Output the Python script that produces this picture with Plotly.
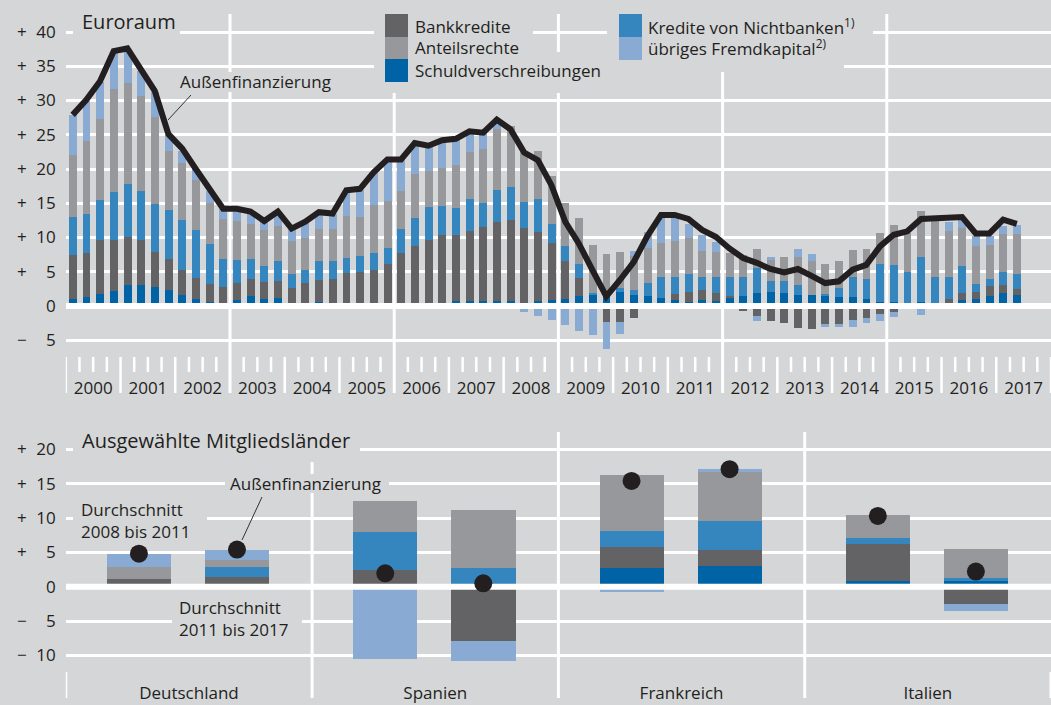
import plotly.graph_objects as go

W, H = 1051, 705
BG = "#d5d6d8"
TXT = "#231f20"
FONT = "Open Sans"

# ---------------- data: Euroraum (quarterly, 2000Q1 - 2017Q2) ----------------
years = list(range(2000, 2018))
quarters = [f"{y}Q{q}" for y in years for q in range(1, 5)][:70]

schuldverschreibungen = [
    1.0, 1.3, 1.7, 2.2, 3.1, 3.0, 2.8, 2.4, 1.55, 0.95,
    0.6, 0.1, 0.85, 1.4, 0.95, 1.2, 0.15, 0.3, 0.6, 0.0,
    0.4, 0.0, 0.0, 0.0, 0.0, 0.0, 0.0, 0.5, 0.7, 0.8,
    0.7, 0.7, 0.7, 0.2, 0.7, 0.9, 1.0, 1.5, 1.7, 1.4,
    2.1, 1.6, 1.4, 1.2, 0.9, 0.6, 0.85, 0.8, 1.1, 1.4,
    1.9, 2.1, 1.95, 1.65, 1.6, 1.4, 1.25, 1.25, 0.95, 0.6,
    0.6, 0.5, 0.6, 0.5, 0.5, 0.9, 1.0, 1.4, 1.9, 1.6]
bankkredite = [
    6.5, 6.5, 8.0, 7.5, 7.0, 6.7, 5.1, 4.5, 3.75, 3.2,
    2.55, 2.7, 2.5, 2.5, 2.6, 2.5, 2.55, 3.0, 3.2, 4.0,
    4.35, 4.9, 5.3, 6.2, 7.7, 8.7, 9.7, 9.8, 9.6, 10.2,
    10.9, 11.5, 11.9, 11.2, 10.15, 8.25, 5.6, 2.6, 0.0, -2.3,
    -2.4, -1.8, -0.4, 0.0, 0.8, 1.5, 1.45, 1.05, 0.3, -0.7,
    -1.5, -2.2, -2.5, -3.2, -3.3, -2.7, -2.7, -2.0, -1.75, -1.1,
    -0.9, 0.0, 0.0, 0.0, 0.5, 1.0, 1.1, 1.45, 1.2, 0.9]
kredite_nichtbanken = [
    5.5, 5.7, 5.75, 6.95, 7.7, 7.1, 7.05, 7.1, 7.2, 7.0,
    5.95, 4.1, 3.35, 2.9, 2.3, 2.8, 2.0, 1.9, 2.7, 2.5,
    2.25, 2.4, 2.4, 2.2, 3.5, 4.2, 4.8, 4.3, 4.05, 4.6,
    3.5, 4.7, 4.8, 3.8, 4.75, 2.85, 2.2, 2.0, 0.25, 0.0,
    0.5, 0.7, 1.9, 3.1, 2.5, 2.6, 2.0, 2.45, 2.8, 2.9,
    3.6, 1.6, 1.65, 1.35, 0.0, 0.35, 1.45, 2.95, 3.0, 5.6,
    5.4, 4.4, 6.5, 3.7, 3.3, 3.9, 1.15, 1.15, 1.8, 2.1]
anteilsrechte = [
    9.0, 10.6, 11.8, 15.05, 14.7, 13.85, 12.65, 8.6, 8.4, 7.2,
    5.95, 5.8, 5.65, 5.1, 5.3, 5.2, 4.8, 4.75, 4.8, 4.7,
    6.2, 5.7, 7.0, 6.9, 5.6, 6.4, 5.2, 5.5, 6.25, 6.9,
    7.8, 9.0, 8.9, 7.3, 7.1, 7.0, 6.3, 6.75, 6.95, 6.2,
    5.3, 5.05, 5.1, 4.85, 5.3, 5.2, 3.8, 3.6, 3.5, 3.2,
    2.85, 3.05, 3.5, 4.1, 4.9, 4.45, 3.8, 4.0, 4.35, 4.5,
    5.8, 5.7, 6.7, 9.0, 6.7, 5.6, 5.45, 4.9, 5.6, 5.9]
uebriges_fremdkapital = [
    5.9, 5.9, 5.5, 5.3, 5.0, 3.6, 3.6, 2.4, 1.8, 1.6,
    1.8, 1.4, 1.6, 1.8, 1.1, 1.9, 1.7, 2.2, 2.3, 2.3,
    3.7, 4.0, 4.7, 6.1, 4.5, 4.4, 3.6, 4.1, 3.8, 3.0,
    2.4, 1.3, -0.5, -0.9, -1.5, -2.0, -2.8, -3.6, -4.3, -4.0,
    -1.7, 0.75, 2.35, 3.65, 3.4, 2.1, 2.2, 1.5, 0.0, 0.0,
    -0.7, 0.45, 0.0, 1.25, 1.1, -0.35, -0.35, -1.1, -0.75, -1.1,
    -0.75, -0.2, -1.3, 0.0, 1.3, 1.2, 1.45, 1.25, 1.2, 1.35]
aussenfinanzierung = [
    27.9, 30.1, 32.8, 37.2, 37.6, 34.4, 31.4, 25.1, 23.0, 20.0,
    17.0, 14.2, 14.2, 13.8, 12.4, 13.8, 11.3, 12.3, 13.7, 13.5,
    16.9, 17.1, 19.5, 21.4, 21.4, 23.8, 23.4, 24.2, 24.4, 25.5,
    25.3, 27.2, 25.8, 22.4, 21.3, 17.6, 12.3, 9.1, 5.2, 1.4,
    3.8, 6.4, 10.2, 13.3, 13.3, 12.7, 11.1, 10.1, 8.4, 7.0,
    6.3, 5.4, 4.9, 5.4, 4.4, 3.35, 3.6, 5.3, 6.0, 8.7,
    10.4, 10.9, 12.7, 12.8, 12.7, 13.0, 10.6, 10.6, 12.6, 12.0]

top_ticks = [-5, 0, 5, 10, 15, 20, 25, 30, 35, 40]
top_ticktext = ["\u2212\u2007\u20075", "0", "+\u2007\u20075", "+\u200710", "+\u200715", "+\u200720",
                "+\u200725", "+\u200730", "+\u200735", "+\u200740"]

# ---------------- data: ausgewählte Mitgliedsländer ----------------
countries = ["Deutschland", "Spanien", "Frankreich", "Italien"]
periods = ["2008 bis 2011", "2011 bis 2017"]
# order: country 1 period 1, country 1 period 2, ...
c_schuldverschreibungen = [0.0, 0.35, 0.0, 0.0, 2.7, 3.05, 0.9, 0.8]
c_bankkredite = [1.1, 1.1, 2.5, -7.9, 3.1, 2.25, 5.3, -2.5]
c_kredite_nichtbanken = [0.0, 1.35, 5.4, 2.7, 2.3, 4.2, 0.9, 0.4]
c_anteilsrechte = [1.8, 1.1, 4.6, 8.5, 8.1, 7.2, 3.4, 4.3]
c_uebriges_fremdkapital = [1.8, 1.5, -10.5, -2.9, -0.7, 0.4, 0.0, -1.0]
c_aussenfinanzierung = [4.8, 5.4, 1.95, 0.5, 15.4, 17.1, 10.3, 2.2]

bot_ticks = [-10, -5, 0, 5, 10, 15, 20]
bot_ticktext = ["\u2212\u200710", "\u2212\u2007\u20075", "0", "+\u2007\u20075", "+\u200710",
                "+\u200715", "+\u200720"]

series_names = ["Schuldverschreibungen", "Bankkredite", "Kredite von Nichtbanken",
                "Anteilsrechte", "übriges Fremdkapital"]
colors = {"Bankkredite": "#636365", "Anteilsrechte": "#97989b",
          "Schuldverschreibungen": "#0063a5", "Kredite von Nichtbanken": "#3585bf",
          "übriges Fremdkapital": "#88aad3"}

top_series = [schuldverschreibungen, bankkredite, kredite_nichtbanken,
              anteilsrechte, uebriges_fremdkapital]
bot_series = [c_schuldverschreibungen, c_bankkredite, c_kredite_nichtbanken,
              c_anteilsrechte, c_uebriges_fremdkapital]


def px(x):
    return x / W


def py(y):
    return 1 - y / H


fig = go.Figure()

xq = [i + 0.5 for i in range(len(quarters))]
for name, vals in zip(series_names, top_series):
    fig.add_trace(go.Bar(x=xq, y=vals, name=name, width=0.58, marker_color=colors[name],
                         marker_line_width=0, showlegend=False, xaxis="x", yaxis="y"))

bar_offsets = [0.297, 0.695]
xb = [ci + bar_offsets[pi] for ci in range(len(countries)) for pi in range(len(periods))]
for name, vals in zip(series_names, bot_series):
    fig.add_trace(go.Bar(x=xb, y=vals, name=name, width=0.26, marker_color=colors[name],
                         marker_line_width=0, showlegend=False, xaxis="x2", yaxis="y2"))

# zero lines (above bars, below line / dots)
fig.add_trace(go.Scatter(x=[0, 72], y=[0, 0], mode="lines", line=dict(color="white", width=6),
                         hoverinfo="skip", showlegend=False, xaxis="x", yaxis="y"))
fig.add_trace(go.Scatter(x=[0, 4], y=[0, 0], mode="lines", line=dict(color="white", width=6),
                         hoverinfo="skip", showlegend=False, xaxis="x2", yaxis="y2"))

fig.add_trace(go.Scatter(x=xq, y=aussenfinanzierung, mode="lines", name="Außenfinanzierung",
                         line=dict(color="#231f20", width=6), showlegend=False,
                         xaxis="x", yaxis="y"))
fig.add_trace(go.Scatter(x=xb, y=c_aussenfinanzierung, mode="markers", name="Außenfinanzierung",
                         marker=dict(color="#231f20", size=18), showlegend=False,
                         xaxis="x2", yaxis="y2"))

shapes = []
# quarter ticks and year boundaries, top panel
for k in range(0, 73):
    if k % 12 == 0 and 0 < k < 72:
        y0, y1, w = 14, 393, 3
    elif k % 4 == 0:
        y0, y1, w = 357, 393, 2.5
    else:
        y0, y1, w = 357, 372, 2.5
    shapes.append(dict(type="line", xref="x", yref="paper", x0=k, x1=k, y0=py(y0), y1=py(y1),
                       line=dict(color="white", width=w), layer="below"))
# country separators, bottom panel
for k in range(0, 5):
    y0 = 432 if 0 < k < 4 else 672
    shapes.append(dict(type="line", xref="x2", yref="paper", x0=k, x1=k, y0=py(y0), y1=py(698),
                       line=dict(color="white", width=3), layer="below"))

# background boxes hiding the grid behind texts
covers = [(73, 8, 180, 36), (374, 8, 533, 52), (374, 52, 610, 93), (607, 8, 873, 45),
          (607, 45, 844, 72), (176, 72, 340, 92), (73, 428, 360, 462), (225, 474, 389, 493),
          (73, 498, 207, 542), (172, 597, 302, 640)]
for x0, y0, x1, y1 in covers:
    shapes.append(dict(type="rect", xref="paper", yref="paper", x0=px(x0), x1=px(x1),
                       y0=py(y1), y1=py(y0), fillcolor=BG, line=dict(width=0), layer="above"))

# legend swatches
legend_items = [("Bankkredite", 385, 14, 37), ("Anteilsrechte", 385, 37, 59),
                ("Schuldverschreibungen", 385, 59, 82),
                ("Kredite von Nichtbanken", 619, 14, 37), ("übriges Fremdkapital", 619, 37, 60)]
for name, x0, y0, y1 in legend_items:
    shapes.append(dict(type="rect", xref="paper", yref="paper", x0=px(x0), x1=px(x0 + 23),
                       y0=py(y1), y1=py(y0), fillcolor=colors[name], line=dict(width=0),
                       layer="above"))

# pointer lines
shapes.append(dict(type="line", xref="paper", yref="paper", x0=px(191), y0=py(95), x1=px(168),
                   y1=py(120), line=dict(color="#333333", width=1), layer="above"))
shapes.append(dict(type="line", xref="paper", yref="paper", x0=px(262), y0=py(497), x1=px(242),
                   y1=py(540), line=dict(color="#333333", width=1), layer="above"))

ann = []


def text(t, x, y, size=17, xanchor="left"):
    ann.append(dict(text=t, x=px(x), y=py(y), xref="paper", yref="paper", showarrow=False,
                    xanchor=xanchor, yanchor="middle", align="left",
                    font=dict(family=FONT, size=size, color=TXT)))


text("Euroraum", 80, 21, 20)
text("Ausgewählte Mitgliedsländer", 80, 440, 20)
text("Bankkredite", 413, 26)
text("Anteilsrechte", 413, 48)
text("Schuldverschreibungen", 413, 70)
text("Kredite von Nichtbanken<sup>1)</sup>", 646, 26)
text("übriges Fremdkapital<sup>2)</sup>", 646, 48)
text("Außenfinanzierung", 178, 82)
text("Außenfinanzierung", 228, 483)
text("Durchschnitt<br>2008 bis 2011", 79, 520)
text("Durchschnitt<br>2011 bis 2017", 177, 618)

xdom = [px(65.8), 1.0]
axis_font = dict(family=FONT, size=17, color=TXT)

fig.update_layout(
    width=W, height=H,
    margin=dict(l=0, r=0, t=0, b=0),
    paper_bgcolor=BG, plot_bgcolor="rgba(0,0,0,0)",
    barmode="relative", bargap=0,
    showlegend=False,
    font=dict(family=FONT, size=17, color=TXT),
    shapes=shapes, annotations=ann,
    xaxis=dict(domain=xdom, range=[0, 72], anchor="y", showgrid=False, zeroline=False,
               tickvals=[4 * i + 2 for i in range(len(years))], ticktext=[str(y) for y in years],
               ticks="", tickfont=axis_font, ticklabelstandoff=21, showline=False),
    yaxis=dict(domain=[py(355), py(14)], range=[(306 - 355) / 6.85, (306 - 14) / 6.85],
               anchor="x", tickvals=top_ticks, ticktext=top_ticktext, ticks="",
               showgrid=True, gridcolor="white", gridwidth=3, zeroline=False,
               tickfont=axis_font, ticklabelstandoff=9),
    xaxis2=dict(domain=xdom, range=[0, 4], anchor="y2", showgrid=False, zeroline=False,
                tickvals=[i + 0.5 for i in range(len(countries))], ticktext=countries,
                ticks="", tickfont=axis_font, ticklabelstandoff=9, showline=False),
    yaxis2=dict(domain=[py(672), py(432)], range=[(586.7 - 672) / 6.87, (586.7 - 432) / 6.87],
                anchor="x2", tickvals=bot_ticks, ticktext=bot_ticktext, ticks="",
                showgrid=True, gridcolor="white", gridwidth=3, zeroline=False,
                tickfont=axis_font, ticklabelstandoff=9),
)

fig.write_html("out.html", config={"displayModeBar": False},
               post_script="document.body.style.margin='0';document.body.style.padding='0';")
